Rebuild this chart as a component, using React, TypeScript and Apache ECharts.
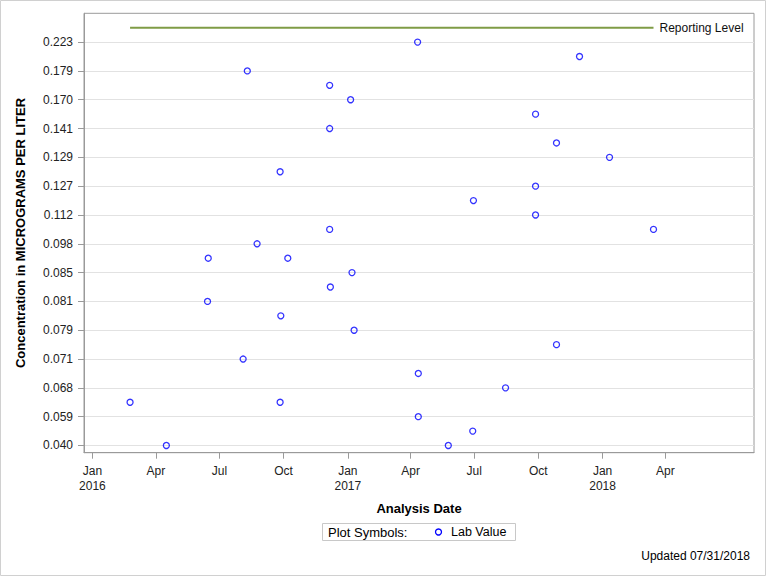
import React, { useEffect, useRef } from "react";
import * as echarts from "echarts";

// Distinct concentration values (discrete axis, ascending). Last entry = reporting level.
const yCategories = [
  "0.040", "0.050", "0.059", "0.063", "0.068", "0.070", "0.071", "0.075",
  "0.079", "0.080", "0.081", "0.083", "0.085", "0.091", "0.098", "0.105",
  "0.112", "0.120", "0.127", "0.128", "0.129", "0.135", "0.141", "0.155",
  "0.170", "0.175", "0.179", "0.200", "0.223", "0.250",
];
const reportingLevel = "0.250";

const sampleDates = [
  "2016-02-24", "2016-04-16", "2016-06-15", "2016-06-14", "2016-08-04",
  "2016-08-10", "2016-08-24", "2016-09-26", "2016-09-27", "2016-09-26",
  "2016-10-07", "2016-12-06", "2016-12-06", "2016-12-06", "2016-12-07",
  "2017-01-05", "2017-01-07", "2017-01-10", "2017-04-11", "2017-04-12",
  "2017-04-12", "2017-05-25", "2017-06-30", "2017-06-29", "2017-08-15",
  "2017-09-27", "2017-09-27", "2017-09-27", "2017-10-27", "2017-10-27",
  "2017-11-29", "2018-01-11", "2018-03-15",
];
const sampleValues = [
  "0.063", "0.040", "0.091", "0.081", "0.071",
  "0.179", "0.098", "0.128", "0.080", "0.063",
  "0.091", "0.175", "0.141", "0.105", "0.083",
  "0.170", "0.085", "0.079", "0.223", "0.070",
  "0.059", "0.040", "0.120", "0.050", "0.068",
  "0.155", "0.127", "0.112", "0.135", "0.075",
  "0.200", "0.129", "0.105",
];

const xTickDates = [
  "2016-01-01", "2016-04-01", "2016-07-01", "2016-10-01",
  "2017-01-01", "2017-04-01", "2017-07-01", "2017-10-01",
  "2018-01-01", "2018-04-01",
];
const monthNames = ["Jan", "Feb", "Mar", "Apr", "May", "Jun", "Jul", "Aug", "Sep", "Oct", "Nov", "Dec"];
const xMinDate = "2015-12-20";
const xMaxDate = "2018-08-06";

const ts = (s: string) => {
  const [y, m, d] = s.split("-").map(Number);
  return Date.UTC(y, m - 1, d);
};

const FONT = "'Liberation Sans', Arial, Helvetica, sans-serif";

export default function App() {
  const ref = useRef<HTMLDivElement>(null);
  useEffect(() => {
    if (!ref.current) return;
    const chart = echarts.init(ref.current, undefined, { renderer: "svg" });
    const points = sampleDates.map((d, i) => [ts(d), yCategories.indexOf(sampleValues[i])]);
    const repIdx = yCategories.indexOf(reportingLevel);
    const labelIdx = yCategories.map((_, i) => i).filter((i) => i % 2 === 0 && i < repIdx);
    const xTicks = xTickDates.map(ts);
    const gridColor = "#9a9a9a";

    chart.setOption({
      animation: false,
      textStyle: { fontFamily: FONT },
      grid: {
        left: 84,
        top: 13.3,
        right: 14,
        bottom: 123.3,
        show: true,
        borderColor: gridColor,
        borderWidth: 1,
        backgroundColor: "transparent",
      },
      xAxis: {
        type: "value",
        min: ts(xMinDate),
        max: ts(xMaxDate),
        axisLine: { show: true, onZero: false, lineStyle: { color: gridColor } },
        axisTick: { show: true, length: 6, lineStyle: { color: gridColor }, customValues: xTicks },
        axisLabel: {
          customValues: xTicks,
          color: "#222",
          fontSize: 12,
          fontFamily: FONT,
          lineHeight: 15,
          margin: 11,
          formatter: (v: number) => {
            const d = new Date(v);
            const m = d.getUTCMonth();
            return m === 0 ? monthNames[m] + "\n" + d.getUTCFullYear() : monthNames[m];
          },
        },
        splitLine: { show: false },
      },
      yAxis: {
        type: "value",
        min: -0.5,
        max: 30,
        axisLine: { show: true, onZero: false, lineStyle: { color: gridColor } },
        axisTick: { show: true, length: 6, lineStyle: { color: gridColor }, customValues: labelIdx },
        axisLabel: {
          customValues: labelIdx,
          color: "#222",
          fontSize: 12,
          fontFamily: FONT,
          margin: 11,
          formatter: (v: number) => yCategories[Math.round(v)] ?? "",
        },
        splitLine: { show: true, lineStyle: { color: "#e2e2e2", width: 1 } },
      },
      series: [
        {
          type: "line",
          name: "Reporting Level",
          data: [
            [ts(sampleDates[0]), repIdx],
            [ts(sampleDates[sampleDates.length - 1]), repIdx],
          ],
          showSymbol: false,
          symbol: "none",
          lineStyle: { color: "#7f9c46", width: 2 },
          endLabel: {
            show: true,
            formatter: "Reporting Level",
            color: "#111",
            fontSize: 12,
            fontFamily: FONT,
            distance: 6,
          },
          z: 3,
        },
        {
          type: "scatter",
          name: "Lab Value",
          data: points,
          symbol: "circle",
          symbolSize: 6,
          itemStyle: { color: "transparent", borderColor: "#0000ff", borderWidth: 1.3 },
          z: 4,
        },
      ],
      graphic: [
        {
          type: "rect",
          shape: { x: 0.5, y: 0.5, width: 765, height: 575 },
          style: { fill: "none", stroke: "#d0d0d0", lineWidth: 1 },
          silent: true,
        },
        {
          type: "text",
          x: 20,
          y: 233,
          rotation: Math.PI / 2,
          style: {
            text: "Concentration in MICROGRAMS PER LITER",
            fontFamily: FONT,
            fontSize: 13,
            fontWeight: "bold",
            fill: "#000",
            align: "center",
            verticalAlign: "middle",
          },
        },
        {
          type: "text",
          x: 419,
          y: 508,
          style: {
            text: "Analysis Date",
            fontFamily: FONT,
            fontSize: 13,
            fontWeight: "bold",
            fill: "#000",
            align: "center",
            verticalAlign: "middle",
          },
        },
        {
          type: "rect",
          shape: { x: 322.5, y: 523.5, width: 193, height: 17 },
          style: { fill: "#fff", stroke: "#c8c8c8", lineWidth: 1 },
        },
        {
          type: "text",
          x: 328,
          y: 532,
          style: {
            text: "Plot Symbols:",
            fontFamily: FONT,
            fontSize: 13,
            fill: "#000",
            align: "left",
            verticalAlign: "middle",
          },
        },
        {
          type: "circle",
          shape: { cx: 438.5, cy: 532, r: 3 },
          style: { fill: "none", stroke: "#0000ff", lineWidth: 1.3 },
        },
        {
          type: "text",
          x: 451,
          y: 532,
          style: {
            text: "Lab Value",
            fontFamily: FONT,
            fontSize: 12.5,
            fill: "#000",
            align: "left",
            verticalAlign: "middle",
          },
        },
        {
          type: "text",
          x: 750,
          y: 556,
          style: {
            text: "Updated 07/31/2018",
            fontFamily: FONT,
            fontSize: 12,
            fill: "#000",
            align: "right",
            verticalAlign: "middle",
          },
        },
      ],
    });
    return () => chart.dispose();
  }, []);

  return (
    <div
      ref={ref}
      style={{ position: "fixed", left: 0, top: 0, width: 768, height: 576, background: "#fff" }}
    />
  );
}
